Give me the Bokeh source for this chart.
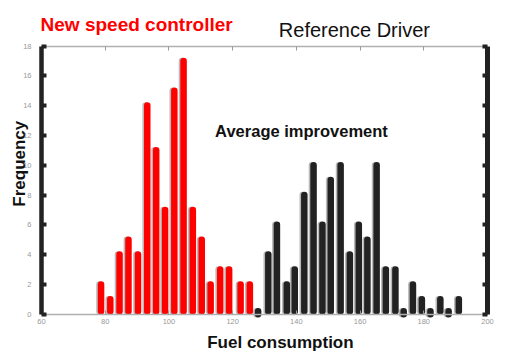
import math
from bokeh.plotting import figure
from bokeh.models import Range1d, LinearAxis, FixedTicker, Label, ColumnDataSource
from bokeh.transform import dodge
from bokeh.embed import file_html
from bokeh.resources import INLINE

# ---- data ----
red_x = [78.7, 81.6, 84.5, 87.3, 90.3, 93.2, 96.0, 98.8, 101.7, 104.6, 107.5,
         110.3, 113.1, 116.1, 118.9, 122.5, 125.4]
red_y = [2, 1, 4, 5, 4, 14, 11, 7, 15, 17, 7, 5, 2, 3, 3, 2, 2]

black_x = [128.0, 131.2, 133.9, 137.0, 139.5, 142.5, 145.4, 148.2, 150.8, 153.9,
           156.8, 159.6, 162.3, 165.2, 168.1, 171.1, 173.7, 176.6, 179.4, 182.1,
           185.2, 187.8, 191.0]
black_y = [0, 4, 6, 2, 3, 8, 10, 6, 9, 10, 4, 6, 5, 10, 3, 3, 0, 2, 1, 0, 1, 0, 1]

x_ticks = [60, 80, 100, 120, 140, 160, 180, 200]
y_ticks = [0, 2, 4, 6, 8, 10, 12, 14, 16, 18]
X_MIN, X_MAX = 60, 200
Y_MIN, Y_MAX = 0, 18

FONT = "Liberation Sans"

# canvas geometry: the axes box inside the whole-canvas frame
W, H = 523, 358
BOX_L, BOX_R, BOX_T, BOX_B = 41.0, 487.0, 45.5, 313.7
sx = (X_MAX - X_MIN) / (BOX_R - BOX_L)
sy = (Y_MAX - Y_MIN) / (BOX_B - BOX_T)
x_range = Range1d(X_MIN - BOX_L * sx, X_MAX + (W - BOX_R) * sx)
y_range = Range1d(Y_MIN - (H - BOX_B) * sy, Y_MAX + BOX_T * sy)

p = figure(width=W, height=H, output_backend="svg", toolbar_location=None,
           x_range=x_range, y_range=y_range, min_border=0,
           x_axis_location=None, y_axis_location=None)
p.outline_line_color = None
p.xgrid.visible = False
p.ygrid.visible = False
p.background_fill_color = "white"
p.border_fill_color = "white"

red_src = ColumnDataSource(dict(x=red_x, y=red_y, z=[0] * len(red_x)))
blk_src = ColumnDataSource(dict(x=black_x, y=black_y, z=[0] * len(black_x)))

# axes (placed at fixed data locations)
def make_axis(loc, ticks, bounds, color, lw, tick_lw, labels, standoff):
    ax = LinearAxis(ticker=FixedTicker(ticks=ticks), fixed_location=loc, bounds=bounds)
    ax.axis_line_color = color
    ax.axis_line_width = lw
    ax.major_tick_in = 5 if tick_lw > 2 else 4
    ax.major_tick_out = 0
    ax.major_tick_line_color = color if tick_lw > 2 else "#999999"
    ax.major_tick_line_width = tick_lw
    ax.minor_tick_line_color = None
    if labels:
        ax.major_label_text_font = FONT
        ax.major_label_text_font_size = "7.5px"
        ax.major_label_text_color = "#999999"
        ax.major_label_standoff = standoff
    else:
        ax.major_label_overrides = {t: "" for t in ticks}
    return ax

p.add_layout(make_axis(Y_MIN, x_ticks, (X_MIN, X_MAX), "#b0b0b0", 1.5, 1, True, 5), "below")
p.add_layout(make_axis(Y_MAX, x_ticks, (X_MIN, X_MAX), "#b0b0b0", 1.5, 1, False, 5), "above")
p.add_layout(make_axis(X_MIN, y_ticks, (Y_MIN, Y_MAX), "#222222", 4.5, 4, True, 10), "left")
p.add_layout(make_axis(X_MAX, y_ticks, (Y_MIN, Y_MAX), "#222222", 5, 4, False, 5), "right")

# bars: gray shadow, then coloured bar with round cap
for src, col in ((red_src, "#ff0000"), (blk_src, "#222222")):
    p.segment(x0=dodge("x", -0.5, range=p.x_range), y0=dodge("z", 0.2, range=p.y_range),
              x1=dodge("x", -0.5, range=p.x_range), y1="y", source=src,
              line_width=6.5, line_color="#9a9a9a", line_alpha=0.7, line_cap="round")
    p.segment(x0="x", y0=dodge("z", 0.2, range=p.y_range), x1="x", y1="y", source=src,
              line_width=6.5, line_color=col, line_cap="round")

# texts
p.add_layout(Label(x=59.7, y=19.42, text="New speed controller", text_font=FONT,
                   text_font_style="bold", text_font_size="19px", text_color="#ff0000",
                   text_baseline="alphabetic"))
p.add_layout(Label(x=134.5, y=19.08, text="Reference Driver", text_font=FONT,
                   text_font_size="20px", text_color="#111111",
                   text_baseline="alphabetic"))
p.add_layout(Label(x=114.5, y=12.32, text="Average improvement", text_font=FONT,
                   text_font_style="bold", text_font_size="16.5px", text_color="#111111",
                   text_baseline="alphabetic"))
p.add_layout(Label(x=53.15, y=10.1, text="Frequency", text_font=FONT,
                   text_font_style="bold", text_font_size="17px", text_color="#111111",
                   text_baseline="alphabetic", text_align="center", angle=math.pi / 2))
p.add_layout(Label(x=135.0, y=-1.93, text="Fuel consumption", text_font=FONT,
                   text_font_style="bold", text_font_size="17px", text_color="#111111",
                   text_baseline="alphabetic", text_align="center"))

open("out.html", "w").write(file_html(p, INLINE))
